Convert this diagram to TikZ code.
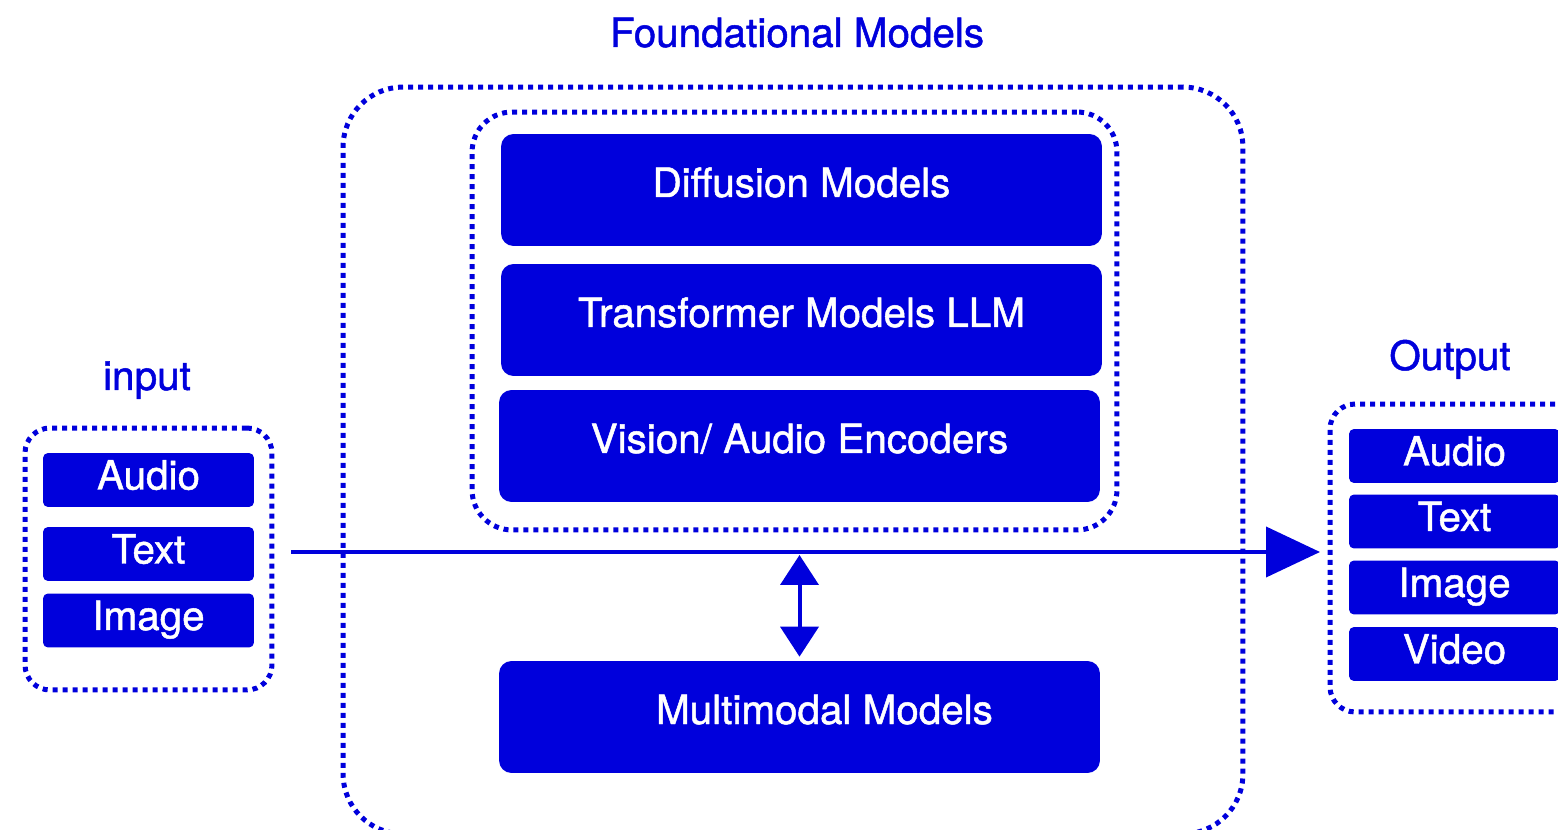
\documentclass[tikz,border=0pt]{standalone}
\usepackage{fontspec}
\setmainfont{TeX Gyre Heros}[FakeBold=1.2]
\usetikzlibrary{arrows.meta, positioning}

\definecolor{fmblue}{RGB}{0,0,220}

\tikzset{
    dotbox/.style={draw=fmblue, line width=0.1cm, dash pattern=on 0.1cm off 0.1cm, rectangle},
    bigbox/.style={fill=fmblue, text=white, rounded corners=0.25cm, minimum width=12.02cm, minimum height=2.24cm, text height=0.58cm, text depth=0.3cm},
    smallbox/.style={fill=fmblue, text=white, rounded corners=0.1cm, minimum width=4.22cm, minimum height=1.08cm, text height=0.58cm, text depth=0.2cm},
    lbl/.style={text=fmblue, anchor=base},
}

\begin{document}
\begin{tikzpicture}[x=0.02cm, y=-0.02cm, font=\fontsize{23}{27}\selectfont]
    \useasboundingbox (0,0) rectangle (1558,830);
    \clip (0,0) rectangle (1558,830);

    % Dotted frames
    \node[dotbox, rounded corners=1.2cm, minimum width=18cm, minimum height=14.94cm] (outer) at (793,460.5) {};
    \node[dotbox, rounded corners=0.8cm, minimum width=12.9cm, minimum height=8.36cm] (inner) at (794.5,321) {};
    \node[dotbox, rounded corners=0.5cm, minimum width=4.94cm, minimum height=5.24cm] (inbox) at (148.5,559) {};
    \node[dotbox, rounded corners=0.5cm, minimum width=5.4cm, minimum height=6.16cm] (outbox) at (1465,558) {};

    % Titles
    \node[lbl] (title) at (797,47) {Foundational Models};
    \node[lbl] (inlbl) at (147,390) {input};
    \node[lbl] (outlbl) at (1450,370) {Output};

    % Model blocks
    \node[bigbox] (diff) at (801.5,190) {Diffusion Models};
    \node[bigbox] (trans) at (801.5,320) {Transformer Models LLM};
    \node[bigbox] (enc) at (799.5,446) {Vision/ Audio Encoders};
    \node[bigbox] (mm) at (799.5,717) {\hspace*{1cm}Multimodal Models};

    % Input items
    \node[smallbox] (inaudio) at (148.5,480) {Audio};
    \node[smallbox] (intext) at (148.5,554) {Text};
    \node[smallbox] (inimage) at (148.5,620.5) {Image};

    % Output items
    \node[smallbox] (outaudio) at (1454.5,456) {Audio};
    \node[smallbox] (outtext) at (1454.5,521.5) {Text};
    \node[smallbox] (outimage) at (1454.5,587.5) {Image};
    \node[smallbox] (outvideo) at (1454.5,654) {Video};

    % Arrows
    \coordinate (flowstart) at (291,552);
    \coordinate (flowend) at (1320,552);
    \draw[fmblue, line width=0.08cm, -{Triangle[length=1.08cm, width=1cm]}] (flowstart) -- (flowend);
    \draw[fmblue, line width=0.08cm, {Triangle[length=0.6cm, width=0.76cm]}-{Triangle[length=0.6cm, width=0.76cm]}]
        ([yshift=-0.06cm]mm.north |- flowstart) -- ([yshift=0.08cm]mm.north);
\end{tikzpicture}
\end{document}
